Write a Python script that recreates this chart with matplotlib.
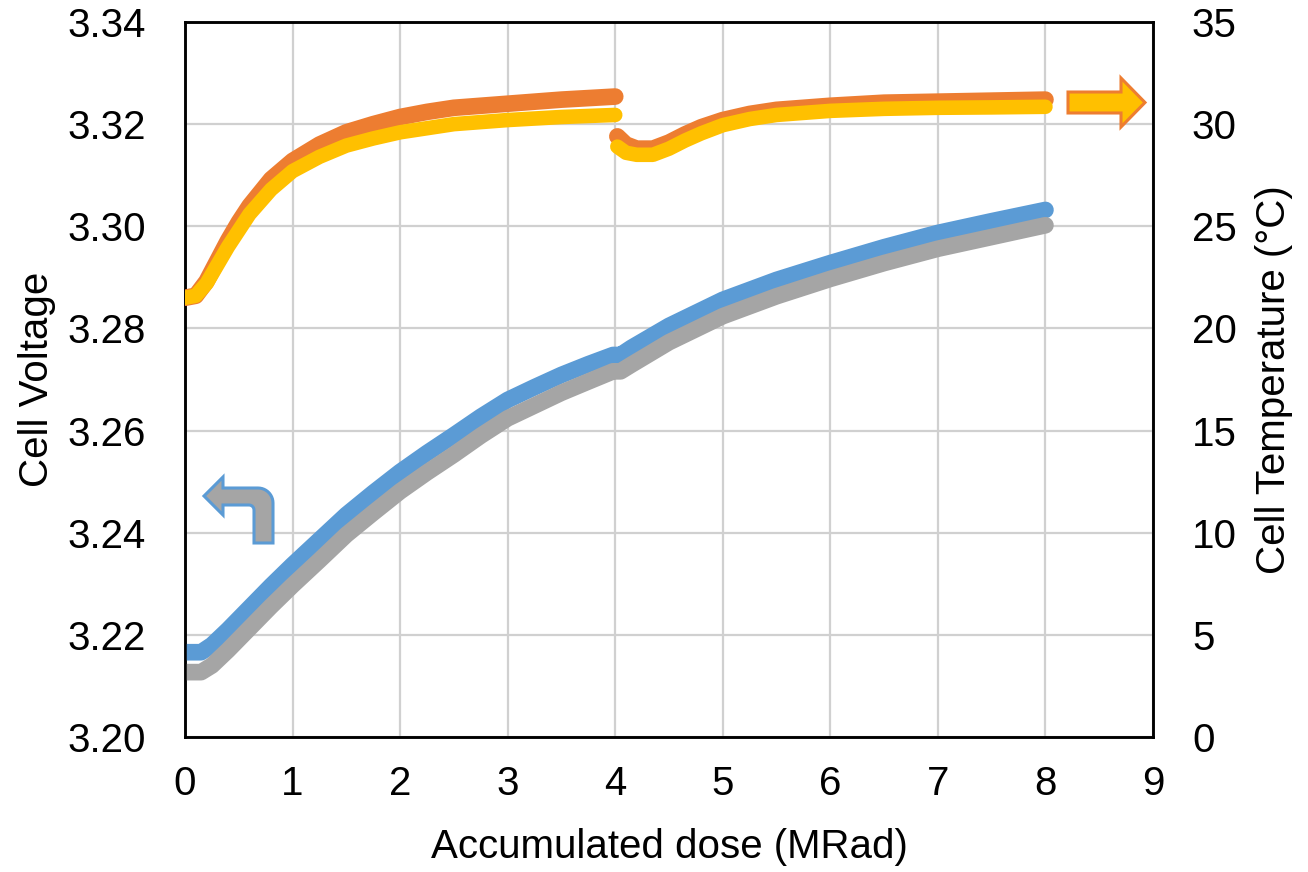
import numpy as np
import matplotlib
matplotlib.use("Agg")
import matplotlib.pyplot as plt
from matplotlib.patches import Polygon

# ── Data ───────────────────────────────────────────────────────────────────
DOSE_V = [0.0, 0.15, 0.25, 0.4, 0.6, 0.8, 1.0, 1.25, 1.5, 1.75, 2.0, 2.25, 2.5, 2.75,
          3.0, 3.25, 3.5, 3.75, 3.98, 4.05, 4.15, 4.5, 5.0, 5.5, 6.0, 6.5, 7.0, 7.5, 8.0]
VOLT_A = [3.2166, 3.2166, 3.2180, 3.2210, 3.2253, 3.2296, 3.2337, 3.2386, 3.2435, 3.2478,
          3.2519, 3.2556, 3.2591, 3.2627, 3.2660, 3.2685, 3.2709, 3.2730, 3.2748, 3.2748,
          3.2762, 3.2805, 3.2856, 3.2895, 3.2928, 3.2959, 3.2987, 3.3010, 3.3032]
VOLT_B = [3.2127, 3.2127, 3.2140, 3.2170, 3.2213, 3.2256, 3.2297, 3.2346, 3.2396, 3.2439,
          3.2481, 3.2518, 3.2553, 3.2590, 3.2624, 3.2649, 3.2674, 3.2696, 3.2716, 3.2716,
          3.2729, 3.2773, 3.2824, 3.2863, 3.2897, 3.2928, 3.2956, 3.2979, 3.3002]

# temperature: two runs (0-4 MRad and 4-8 MRad), NaN marks the break
DOSE_T = [0.0, 0.1, 0.2, 0.3, 0.4, 0.5, 0.6, 0.8, 1.0, 1.25, 1.5, 1.75, 2.0, 2.25, 2.5,
          3.0, 3.5, 4.0, 4.01,
          4.02, 4.1, 4.2, 4.35, 4.5, 4.65, 4.8, 5.0, 5.25, 5.5, 6.0, 6.5, 7.0, 7.5, 8.0]
TEMP_A = [21.5, 21.6, 22.3, 23.3, 24.3, 25.2, 26.0, 27.3, 28.2, 29.0, 29.6, 30.0, 30.35,
          30.6, 30.8, 31.0, 31.2, 31.35, np.nan,
          29.4, 29.0, 28.8, 28.8, 29.1, 29.5, 29.85, 30.2, 30.5, 30.7, 30.9, 31.05, 31.1,
          31.15, 31.2]
TEMP_B = [21.5, 21.6, 22.2, 23.1, 24.0, 24.8, 25.6, 26.8, 27.7, 28.4, 28.95, 29.3, 29.6,
          29.8, 30.0, 30.2, 30.35, 30.45, np.nan,
          28.9, 28.6, 28.5, 28.5, 28.8, 29.2, 29.55, 29.95, 30.25, 30.45, 30.65, 30.75, 30.8,
          30.82, 30.85]

X_TICKS = list(range(0, 10))
V_TICKS = [3.20, 3.22, 3.24, 3.26, 3.28, 3.30, 3.32, 3.34]
T_TICKS = [0, 5, 10, 15, 20, 25, 30, 35]

BLUE   = "#5B9BD5"
ORANGE = "#ED7D31"
GRAY   = "#A5A5A5"
YELLOW = "#FFC000"

W, H = 1308, 872
plt.rcParams["font.family"] = ["Liberation Sans", "DejaVu Sans"]

fig = plt.figure(figsize=(W / 100, H / 100), dpi=100)
ax = fig.add_axes([185 / W, 1 - 737 / H, (1153 - 185) / W, (737 - 22) / H])
ax2 = ax.twinx()

lw = 12
ax.plot(DOSE_V, VOLT_A, color=BLUE, lw=lw, solid_capstyle="round",
        solid_joinstyle="round", zorder=3)
ax.plot(DOSE_V, VOLT_B, color=GRAY, lw=lw, solid_capstyle="round",
        solid_joinstyle="round", zorder=4)
ax2.plot(DOSE_T, TEMP_A, color=ORANGE, lw=lw, solid_capstyle="round",
         solid_joinstyle="round", zorder=3)
ax2.plot(DOSE_T, TEMP_B, color=YELLOW, lw=lw - 1.5, solid_capstyle="round",
         solid_joinstyle="round", zorder=4)

ax.set_xlim(0, 9)
ax.set_ylim(3.20, 3.34)
ax2.set_ylim(0, 35)
ax.set_xticks(X_TICKS)
ax.set_yticks(V_TICKS)
ax2.set_yticks(T_TICKS)
ax.set_xticklabels([str(v) for v in X_TICKS], fontsize=29)
ax.set_yticklabels([f"{v:.2f}" for v in V_TICKS], fontsize=29)
ax2.set_yticklabels([str(v) for v in T_TICKS], fontsize=29)

ax.grid(True, color="#d0d0d0", lw=1.6, zorder=0)
ax.set_axisbelow(True)
for a in (ax, ax2):
    a.tick_params(axis="y", length=0, pad=28)
    a.tick_params(axis="x", length=0, pad=20)
    for s in a.spines.values():
        s.set_linewidth(1.8)
        s.set_color("black")

ax.set_xlabel("Accumulated dose (MRad)", fontsize=29, labelpad=18)
ax.set_ylabel("Cell Voltage", fontsize=29, labelpad=8)
ax2.set_ylabel("Cell Temperature (°C)", fontsize=29, labelpad=13)


def px(x, y):
    return (x / W, 1 - y / H)


# bent arrow pointing to left axis
pts = [(204, 496), (223, 477), (223, 488)]
for a in np.linspace(np.pi / 2, 0, 12):
    pts.append((258 + 15 * np.cos(a), 503 - 15 * np.sin(a)))
pts += [(273, 543), (254, 543)]
for a in np.linspace(0, np.pi / 2, 8):
    pts.append((249 + 5 * np.cos(a), 510 - 5 * np.sin(a)))
pts += [(223, 505), (223, 515)]
fig.patches.append(Polygon([px(*p) for p in pts], closed=True, transform=fig.transFigure,
                           facecolor=GRAY, edgecolor=BLUE, lw=2.2, zorder=10))

# straight arrow pointing to right axis
pts = [(1068, 92), (1121, 92), (1121, 78), (1145, 102.5), (1121, 127), (1121, 113), (1068, 113)]
fig.patches.append(Polygon([px(*p) for p in pts], closed=True, transform=fig.transFigure,
                           facecolor=YELLOW, edgecolor=ORANGE, lw=2.2, zorder=10))

fig.savefig("out.png", dpi=100)
